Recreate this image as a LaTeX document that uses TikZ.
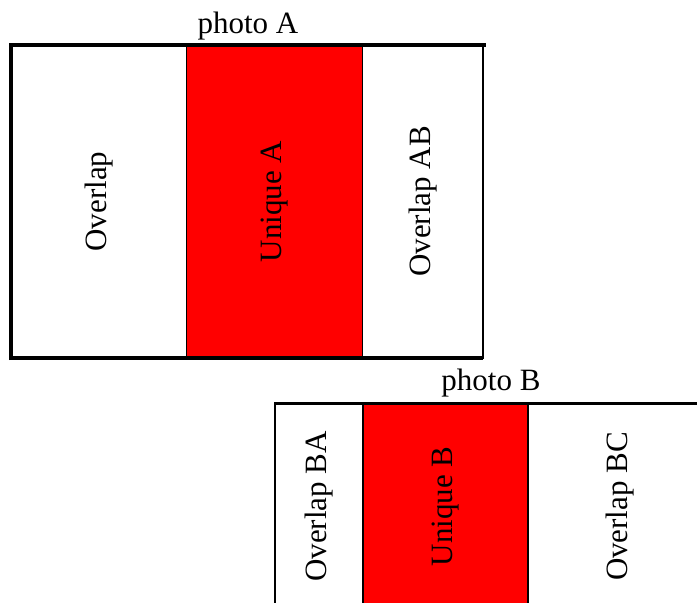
\documentclass[tikz,border=0pt]{standalone}
\usepackage{fontspec}
\setmainfont{Liberation Serif}
\usetikzlibrary{positioning,calc}
\tikzset{
   photo/.style={x=1pt, y=-1pt, font=\fontsize{31}{36}\selectfont},
   strip/.style={draw, line width=1.8pt, inner sep=0pt, outer sep=0pt, anchor=north west},
   stripA/.style={strip, minimum height=313pt},
   stripB/.style={strip, minimum height=206pt},
   frame/.style={line width=4pt},
   framethin/.style={line width=3pt},
   side/.style={rotate=90, inner sep=0pt},
   title/.style={anchor=base, inner sep=0pt}
}
\begin{document}
\begin{tikzpicture}[photo]
    \useasboundingbox (0,0) rectangle (697,603);
    \clip (0,0) rectangle (697,603);

    % photo A strips
    \node[stripA, minimum width=175.5pt] (overlapA) at (11,45) {};
    \node[stripA, minimum width=176pt, fill=red] (uniqueA) at (overlapA.north east) {};
    \node[stripA, minimum width=120.5pt] (overlapAB) at (uniqueA.north east) {};
    \draw[frame] ($(overlapA.south west)+(0,2)$) -- (overlapA.north west)
       -- ($(overlapAB.north east)+(3,0)$);
    \draw[frame] ($(overlapA.south west)+(-2,0)$) -- (overlapAB.south east);

    % photo B strips
    \node[stripB, minimum width=88pt] (overlapBA) at (275,403.5) {};
    \node[stripB, minimum width=165pt, fill=red] (uniqueB) at (overlapBA.north east) {};
    \node[stripB, minimum width=184pt] (overlapBC) at (uniqueB.north east) {};
    \draw[framethin] ($(overlapBA.north west)+(-1,0)$) -- (overlapBC.north east);

    % labels
    \node[side] (overlapA text) at (overlapA) {Overlap};
    \node[side] (uniqueA text) at (uniqueA) {Unique A};
    \node[side] (overlapAB text) at (overlapAB) {Overlap AB};
    \node[side] (overlapBA text) at (overlapBA) {Overlap BA};
    \node[side] (uniqueB text) at (uniqueB) {Unique B};
    \node[side] (overlapBC text) at (overlapBC) {Overlap BC};

    \node[title] (photoA) at (248,33) {photo A};
    \node[title] (photoB) at (491,390) {photo B};
\end{tikzpicture}
\end{document}
